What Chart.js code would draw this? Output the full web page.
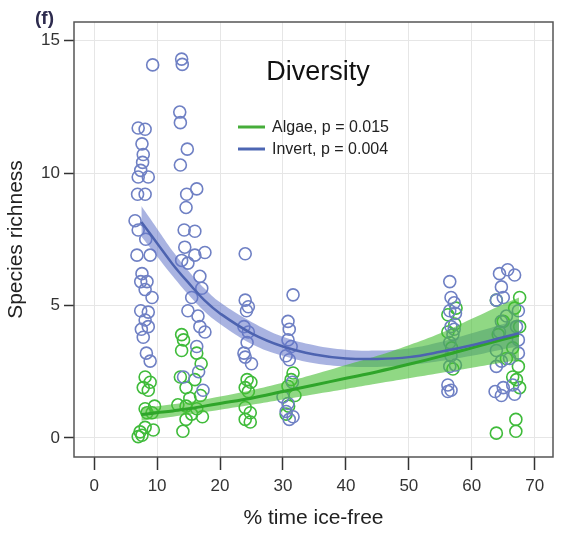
<!DOCTYPE html>
<html>
<head>
<meta charset="utf-8">
<title>Diversity</title>
<script src="https://cdn.jsdelivr.net/npm/chart.js@4.4.1/dist/chart.umd.min.js"></script>
<style>
    html, body { margin: 0; padding: 0; background: #fff; }
    #wrap { width: 564px; height: 533px; position: relative; }
</style>
</head>
<body>
<div id="wrap"><canvas id="chart-diversity"></canvas></div>
<script>
// Species richness vs % time ice-free (panel f)

const xTicks = [0, 10, 20, 30, 40, 50, 60, 70];
const yTicks = [0, 5, 10, 15];

// Invertebrate observations
const invertX = [
    9.3, 7.0, 8.1, 7.6, 7.8, 7.7, 7.4, 7.0, 8.6, 6.9, 8.1, 6.5, 7.0, 8.2, 6.8, 7.6, 7.4, 8.4, 8.1, 9.2,
    7.4, 8.6, 8.1, 8.6, 7.8, 8.3, 8.9, 7.5, 8.9,
    13.9, 14.0, 13.6, 13.7, 14.8, 13.7, 16.3, 14.7, 14.6, 14.3, 16.0, 14.4, 16.0, 13.9, 17.6, 14.9,
    16.8, 17.1, 14.9, 16.5, 16.8, 17.6, 16.3, 17.3, 15.5, 14.2, 16.6,
    24.0, 24.0, 24.5, 24.2, 23.8, 24.5, 24.0, 25.0, 23.8, 24.3,
    31.6, 30.8, 31.0, 30.8, 31.3, 30.5, 31.0, 30.0, 30.8, 30.5, 31.6, 31.0, 31.5,
    56.5, 56.7, 57.2, 56.5, 57.4, 56.7, 57.2, 56.5, 56.7, 57.4, 56.5, 56.2, 56.7, 56.2, 57.0,
    64.4, 65.7, 66.8, 64.7, 65.0, 63.9, 67.4, 64.7, 64.4, 67.1, 67.4, 63.9, 67.4, 64.7, 63.9, 63.7,
    64.7, 66.8, 65.0, 66.5, 66.0, 65.5
];
const invertY = [
    14.08, 11.7, 11.65, 11.1, 10.7, 10.4, 10.1, 9.85, 9.85, 9.2, 9.2, 8.2, 7.85, 7.5, 6.9, 6.2, 5.9, 5.9, 5.6, 5.3,
    4.8, 4.75, 4.45, 4.2, 3.8, 3.2, 2.9, 4.1, 6.9,
    14.3, 14.1, 12.3, 11.9, 10.9, 10.3, 9.4, 9.2, 8.7, 7.85, 7.8, 7.2, 6.9, 6.7, 7.0, 6.6,
    6.1, 5.65, 4.8, 4.6, 4.2, 4.0, 3.45, 1.8, 5.3, 2.3, 2.5,
    6.95, 5.2, 4.95, 4.8, 4.2, 4.0, 3.05, 2.8, 3.2, 3.6,
    5.4, 4.4, 4.1, 3.7, 3.45, 3.1, 2.95, 1.55, 1.3, 1.0, 0.8, 0.7, 2.1,
    5.9, 5.3, 5.1, 4.8, 4.7, 4.2, 4.1, 3.6, 3.1, 2.75, 2.7, 2.0, 1.8, 1.75, 3.9,
    6.2, 6.35, 6.15, 5.7, 5.3, 5.2, 4.8, 4.4, 4.0, 4.2, 3.7, 3.3, 3.2, 2.9, 2.7, 1.75,
    1.6, 1.65, 1.9, 2.0, 3.0, 4.6
];

// Algae observations
const algaeX = [
    8.1, 8.9, 7.8, 8.6, 8.1, 9.2, 8.4, 7.3, 7.0, 9.4, 8.1, 7.6, 9.6,
    13.9, 14.2, 13.9, 16.3, 13.7, 16.0, 14.6, 15.2, 13.3, 14.6, 16.3, 14.6, 14.1, 17.0, 15.5, 17.2, 16.9,
    24.3, 24.9, 24.0, 24.5, 24.0, 24.8, 24.0, 24.8,
    31.6, 31.3, 30.8, 30.9, 31.9, 30.5,
    56.2, 57.5, 56.2, 57.0, 56.8, 57.3,
    63.9, 67.0, 67.0, 67.6, 63.9, 66.8, 67.6, 66.5, 67.4, 67.1, 66.5, 67.6, 64.2, 65.0, 65.5
];
const algaeY = [
    2.3, 2.1, 1.9, 1.8, 1.1, 0.95, 0.95, 0.23, 0.05, 0.3, 0.4, 0.1, 1.2,
    3.9, 3.7, 3.3, 3.2, 2.3, 2.2, 1.9, 1.5, 1.25, 1.2, 1.1, 0.7, 0.25, 2.8, 0.9, 0.8, 1.6,
    2.2, 2.1, 1.9, 1.75, 1.15, 0.95, 0.7, 0.6,
    2.45, 2.2, 1.95, 1.2, 1.6, 0.9,
    4.65, 4.9, 4.0, 2.6, 3.4, 4.3,
    0.18, 0.7, 0.25, 5.3, 5.2, 4.9, 4.2, 3.4, 2.7, 2.2, 2.3, 1.9, 3.9, 4.4, 3.0
];

// Fitted curves and 95% bands
const fitX = [7.5, 10, 12.5, 15, 17.5, 20, 25, 30, 35, 40, 45, 50, 55, 60, 65, 67.5];
const invertFit = [8.15, 7.35, 6.55, 5.85, 5.2, 4.7, 3.95, 3.45, 3.15, 3.0, 2.98, 3.05, 3.25, 3.5, 3.8, 3.95];
const invertLo = [7.6, 6.85, 6.1, 5.4, 4.78, 4.3, 3.55, 3.1, 2.82, 2.7, 2.68, 2.75, 2.9, 3.1, 3.35, 3.45];
const invertHi = [8.75, 7.9, 7.05, 6.3, 5.65, 5.12, 4.38, 3.82, 3.5, 3.33, 3.3, 3.38, 3.62, 3.95, 4.3, 4.5];
const algaeFit = [0.88, 0.95, 1.02, 1.1, 1.2, 1.3, 1.5, 1.75, 2.0, 2.25, 2.5, 2.78, 3.08, 3.4, 3.72, 3.88];
const algaeLo = [0.65, 0.72, 0.8, 0.88, 0.97, 1.06, 1.25, 1.45, 1.65, 1.85, 2.05, 2.25, 2.45, 2.65, 2.85, 2.92];
const algaeHi = [1.15, 1.2, 1.27, 1.35, 1.45, 1.56, 1.8, 2.08, 2.4, 2.75, 3.1, 3.5, 3.95, 4.5, 5.05, 5.3];

const legendItems = [
    { label: 'Algae, p = 0.015', color: '#46ad3a' },
    { label: 'Invert, p = 0.004', color: '#4d66b3' }
];

const FONT = "'Liberation Sans', Arial, Helvetica, sans-serif";

function pts(xs, ys) {
    return xs.map((x, i) => ({ x: x, y: ys[i] }));
}

function fixedTicks(values) {
    return function (scale) {
        scale.ticks = values.map(v => ({ value: v }));
    };
}

// Frame, panel letter, title and legend
const decorations = {
    id: 'decorations',
    afterDraw(chart) {
        const ctx = chart.ctx;
        const a = chart.chartArea;
        ctx.save();
        ctx.strokeStyle = '#555';
        ctx.lineWidth = 1.5;
        ctx.strokeRect(a.left, a.top, a.right - a.left, a.bottom - a.top);

        ctx.fillStyle = '#2d2b4e';
        ctx.font = 'bold 19px ' + FONT;
        ctx.textAlign = 'left';
        ctx.textBaseline = 'alphabetic';
        ctx.fillText('(f)', 35, 24);

        ctx.fillStyle = '#111';
        ctx.font = '27px ' + FONT;
        ctx.textAlign = 'center';
        ctx.fillText('Diversity', 318, 80);

        ctx.font = '16px ' + FONT;
        ctx.textAlign = 'left';
        ctx.textBaseline = 'middle';
        legendItems.forEach((item, i) => {
            const y = 127 + i * 22;
            ctx.strokeStyle = item.color;
            ctx.lineWidth = 3;
            ctx.beginPath();
            ctx.moveTo(238, y);
            ctx.lineTo(265, y);
            ctx.stroke();
            ctx.fillStyle = '#222';
            ctx.fillText(item.label, 272, y + 1);
        });
        ctx.restore();
    }
};

const ctx = document.getElementById('chart-diversity').getContext('2d');

new Chart(ctx, {
    type: 'scatter',
    data: {
        datasets: [
            {
                label: 'Invert',
                data: pts(invertX, invertY),
                borderColor: '#6f80c4',
                backgroundColor: 'rgba(0,0,0,0)',
                pointRadius: 6,
                borderWidth: 1.6,
                order: 3
            },
            {
                label: 'Algae',
                data: pts(algaeX, algaeY),
                borderColor: '#3fbb3a',
                backgroundColor: 'rgba(0,0,0,0)',
                pointRadius: 6,
                borderWidth: 1.6,
                order: 3
            },
            {
                type: 'line',
                label: 'Invert low',
                data: pts(fitX, invertLo),
                borderColor: 'rgba(0,0,0,0)',
                borderWidth: 0,
                pointRadius: 0,
                tension: 0.4,
                fill: false,
                order: 2
            },
            {
                type: 'line',
                label: 'Invert high',
                data: pts(fitX, invertHi),
                borderColor: 'rgba(0,0,0,0)',
                backgroundColor: 'rgba(98, 116, 200, 0.55)',
                borderWidth: 0,
                pointRadius: 0,
                tension: 0.4,
                fill: 2,
                order: 2
            },
            {
                type: 'line',
                label: 'Algae low',
                data: pts(fitX, algaeLo),
                borderColor: 'rgba(0,0,0,0)',
                borderWidth: 0,
                pointRadius: 0,
                tension: 0.4,
                fill: false,
                order: 2
            },
            {
                type: 'line',
                label: 'Algae high',
                data: pts(fitX, algaeHi),
                borderColor: 'rgba(0,0,0,0)',
                backgroundColor: 'rgba(70, 190, 50, 0.6)',
                borderWidth: 0,
                pointRadius: 0,
                tension: 0.4,
                fill: 4,
                order: 1
            },
            {
                type: 'line',
                label: 'Invert fit',
                data: pts(fitX, invertFit),
                borderColor: '#4d63b0',
                borderWidth: 2.5,
                pointRadius: 0,
                tension: 0.4,
                fill: false,
                order: 0
            },
            {
                type: 'line',
                label: 'Algae fit',
                data: pts(fitX, algaeFit),
                borderColor: '#2fa52a',
                borderWidth: 3,
                pointRadius: 0,
                tension: 0.4,
                fill: false,
                order: 0
            }
        ]
    },
    options: {
        responsive: true,
        maintainAspectRatio: false,
        animation: false,
        layout: { padding: { top: 22, right: 11, left: 0, bottom: 0 } },
        plugins: {
            legend: { display: false },
            tooltip: { enabled: false }
        },
        scales: {
            x: {
                type: 'linear',
                min: -3.2,
                max: 72.9,
                afterBuildTicks: fixedTicks(xTicks),
                afterFit: scale => { scale.height = 76; },
                grid: { color: '#e6e6e6', tickColor: '#333', tickLength: 13, tickWidth: 1.5 },
                border: { display: false },
                ticks: { color: '#333', font: { family: FONT, size: 17 }, padding: 6 },
                title: {
                    display: true,
                    text: '% time ice-free',
                    color: '#222',
                    font: { family: FONT, size: 21 },
                    padding: { top: 4, bottom: 2 }
                }
            },
            y: {
                type: 'linear',
                min: -0.72,
                max: 15.7,
                afterBuildTicks: fixedTicks(yTicks),
                afterFit: scale => { scale.width = 74; },
                grid: { color: '#e6e6e6', tickColor: '#333', tickLength: 10, tickWidth: 1.5 },
                border: { display: false },
                ticks: { color: '#333', font: { family: FONT, size: 17 }, padding: 4 },
                title: {
                    display: true,
                    text: 'Species richness',
                    color: '#222',
                    font: { family: FONT, size: 21 },
                    padding: { top: 4, bottom: 2 }
                }
            }
        }
    },
    plugins: [decorations]
});
</script>
</body>
</html>
